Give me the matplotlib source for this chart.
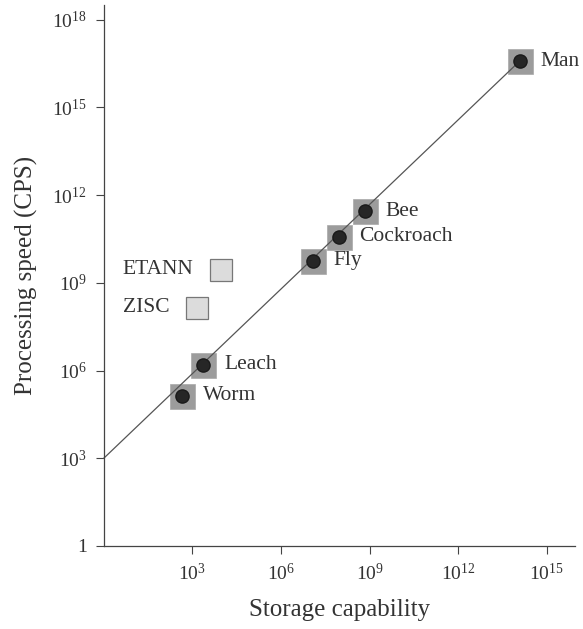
import numpy as np
import matplotlib
matplotlib.use("Agg")
import matplotlib.pyplot as plt

plt.rcParams['font.family'] = ['Liberation Serif', 'DejaVu Serif']
plt.rcParams['mathtext.fontset'] = 'custom'
plt.rcParams['mathtext.rm'] = 'Liberation Serif'
plt.rcParams['mathtext.it'] = 'Liberation Serif:italic'

# ---- data (log10 values) ----
animals = ["Worm", "Leach", "Fly", "Cockroach", "Bee", "Man"]
storage_log = [2.66, 3.37, 7.07, 7.95, 8.83, 14.08]
speed_log = [5.14, 6.20, 9.76, 10.58, 11.44, 16.58]

chips = ["ETANN", "ZISC"]
chip_storage_log = [3.97, 3.16]
chip_speed_log = [9.45, 8.15]

# trend line: from (1, 1e3) up to Man
trend_x_log = [0.0, 14.08]
trend_y_log = [3.0, 16.58]

xtick_pow = [3, 6, 9, 12, 15]
ytick_pow = [0, 3, 6, 9, 12, 15, 18]
ytick_labels = ["1"] + [rf"$10^{{{p}}}$" for p in ytick_pow[1:]]
xtick_labels = [rf"$10^{{{p}}}$" for p in xtick_pow]

sx = 10.0 ** np.array(storage_log)
sy = 10.0 ** np.array(speed_log)
cx = 10.0 ** np.array(chip_storage_log)
cy = 10.0 ** np.array(chip_speed_log)

fig = plt.figure(figsize=(5.83, 6.29), dpi=100)
ax = fig.add_axes([0.178, 0.132, 0.808, 0.860])
ax.set_xscale('log')
ax.set_yscale('log')
ax.set_xlim(1, 10 ** 15.95)
ax.set_ylim(1, 10 ** 18.5)

# gray squares behind the animals
ax.plot(sx, sy, 's', ms=18, color='#9c9c9c', mec='#a8a8a8', mew=0.5, zorder=1, ls='none')
ax.plot(10.0 ** np.array(trend_x_log), 10.0 ** np.array(trend_y_log),
        color='#555555', lw=0.9, zorder=2, clip_on=False)
ax.plot(sx, sy, 'o', ms=9.5, color='#262626', mec='#1a1a1a', zorder=3, ls='none')

for name, x, y in zip(animals, sx, sy):
    ax.annotate(name, (x, y), xytext=(15, 0), textcoords='offset points',
                va='center', ha='left', fontsize=15.5, color='#333333',
                annotation_clip=False)

# hardware chips: light squares
ax.plot(cx, cy, 's', ms=16, color='#dcdcdc', mec='#777777', mew=0.9, zorder=2, ls='none')
for name, x, y in zip(chips, cx, cy):
    ax.annotate(name, (x, y), xytext=(-20, 0), textcoords='offset points',
                va='center', ha='right', fontsize=15.5, color='#333333')

ax.set_xticks(10.0 ** np.array(xtick_pow))
ax.set_xticklabels(xtick_labels)
ax.set_yticks(10.0 ** np.array(ytick_pow))
ax.set_yticklabels(ytick_labels)
ax.minorticks_off()
ax.tick_params(axis='both', direction='out', length=6, width=0.8,
               colors='#444444', labelcolor='#333333', labelsize=14, pad=6)

for s in ['top', 'right']:
    ax.spines[s].set_visible(False)
for s in ['left', 'bottom']:
    ax.spines[s].set_color('#444444')
    ax.spines[s].set_linewidth(0.9)

ax.set_xlabel("Storage capability", fontsize=18, color='#333333', labelpad=11)
ax.set_ylabel("Processing speed (CPS)", fontsize=18, color='#333333', labelpad=10)

fig.savefig("out.png", dpi=100)
